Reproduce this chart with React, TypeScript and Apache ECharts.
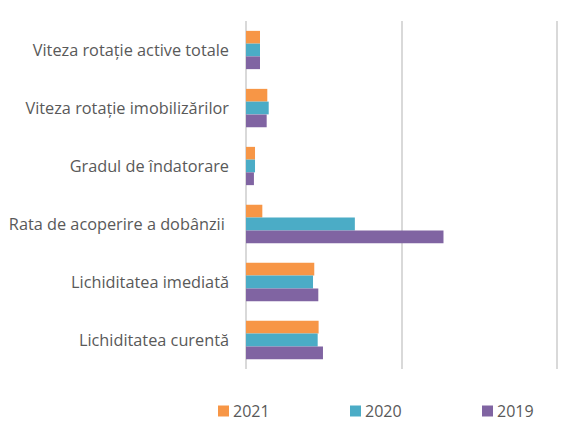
import React, { useEffect, useRef } from "react";
import * as echarts from "echarts";

const categories = [
  "Viteza rotație active totale",
  "Viteza rotație imobilizărilor",
  "Gradul de îndatorare",
  "Rata de acoperire a dobânzii\u00a0",
  "Lichiditatea imediată",
  "Lichiditatea curentă",
];
const seriesNames = ["2021", "2020", "2019"];
const values2021 = [0.9, 1.37, 0.58, 1.05, 4.39, 4.67];
const values2020 = [0.9, 1.46, 0.58, 7.0, 4.31, 4.61];
const values2019 = [0.9, 1.33, 0.51, 12.7, 4.65, 4.95];
const colors = ["#F79646", "#4BACC6", "#8064A2"];
const legendLefts = [218, 350, 482];

export default function App() {
  const ref = useRef<HTMLDivElement>(null);
  useEffect(() => {
    if (!ref.current) return;
    const chart = echarts.init(ref.current, null, { renderer: "svg" });
    const data = [values2021, values2020, values2019];
    chart.setOption({
      animation: false,
      grid: { left: 246, right: 25, top: 21, bottom: 56, containLabel: false },
      legend: seriesNames.map((n, i) => ({
        data: [n],
        left: legendLefts[i],
        top: 403,
        padding: 0,
        itemWidth: 11,
        itemHeight: 11,
        itemGap: 4,
        icon: "rect",
        textStyle: { color: "#595959", fontSize: 16, fontFamily: "Open Sans", padding: [0, 0, 0, -1] },
      })),
      xAxis: {
        type: "value",
        min: 0,
        max: 20,
        interval: 10,
        axisLabel: { show: false },
        axisLine: { show: false },
        axisTick: { show: false },
        splitLine: { show: true, lineStyle: { color: "#D9D9D9", width: 2 } },
      },
      yAxis: {
        type: "category",
        data: categories,
        inverse: true,
        axisLine: { show: false },
        axisTick: { show: false },
        axisLabel: {
          color: "#595959",
          fontSize: 16.3,
          fontFamily: "Open Sans",
          margin: 17,
        },
      },
      series: seriesNames.map((n, i) => ({
        name: n,
        type: "bar",
        data: data[i],
        barGap: "0%",
        barCategoryGap: "34%",
        itemStyle: { color: colors[i] },
      })),
    });
    return () => chart.dispose();
  }, []);
  return <div ref={ref} style={{ width: 582, height: 425, position: "absolute", left: 0, top: 0 }} />;
}
